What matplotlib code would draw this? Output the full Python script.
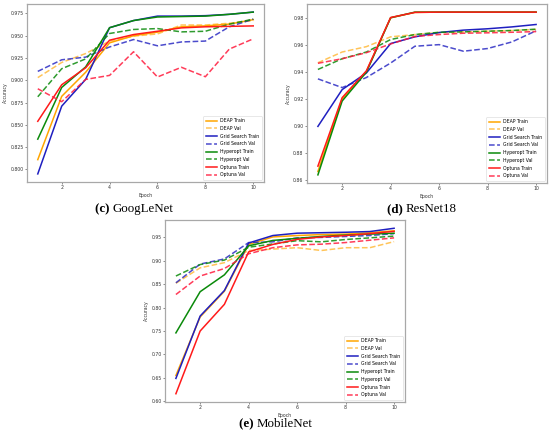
import matplotlib
matplotlib.use("Agg")
import matplotlib.pyplot as plt

epochs = [1, 2, 3, 4, 5, 6, 7, 8, 9, 10]

labels = ["DEAP Train", "DEAP Val", "Grid Search Train", "Grid Search Val",
          "Hyperopt Train", "Hyperopt Val", "Optuna Train", "Optuna Val"]

# (c) GoogLeNet
googlenet_deap_train = [0.811, 0.882, 0.909, 0.942, 0.950, 0.954, 0.960, 0.961, 0.963, 0.968]
googlenet_deap_val = [0.903, 0.920, 0.930, 0.944, 0.9495, 0.952, 0.962, 0.962, 0.964, 0.967]
googlenet_grid_train = [0.795, 0.871, 0.901, 0.959, 0.967, 0.972, 0.972, 0.9725, 0.974, 0.9765]
googlenet_grid_val = [0.910, 0.923, 0.926, 0.9374, 0.9457, 0.9387, 0.943, 0.944, 0.960, 0.9686]
googlenet_hyper_train = [0.834, 0.892, 0.915, 0.959, 0.967, 0.971, 0.9715, 0.972, 0.974, 0.9765]
googlenet_hyper_val = [0.8815, 0.913, 0.924, 0.9525, 0.957, 0.958, 0.9543, 0.955, 0.963, 0.9686]
googlenet_optuna_train = [0.854, 0.895, 0.914, 0.945, 0.9513, 0.955, 0.9588, 0.960, 0.9605, 0.961]
googlenet_optuna_val = [0.8905, 0.876, 0.901, 0.9055, 0.932, 0.9037, 0.9146, 0.904, 0.935, 0.9465]

# (d) ResNet18
resnet_deap_train = [0.866, 0.920, 0.9405, 0.9805, 0.9845, 0.9847, 0.9847, 0.9847, 0.9847, 0.9847]
resnet_deap_val = [0.947, 0.955, 0.959, 0.9663, 0.968, 0.9695, 0.970, 0.9705, 0.971, 0.9718]
resnet_grid_train = [0.8996, 0.927, 0.9394, 0.9613, 0.9663, 0.9695, 0.9713, 0.9723, 0.9737, 0.9755]
resnet_grid_val = [0.935, 0.9285, 0.936, 0.9468, 0.9593, 0.9605, 0.9556, 0.9576, 0.9625, 0.9708]
resnet_hyper_train = [0.8635, 0.9185, 0.940, 0.9805, 0.9847, 0.9847, 0.9847, 0.9847, 0.9847, 0.9847]
resnet_hyper_val = [0.942, 0.950, 0.955, 0.9643, 0.968, 0.9697, 0.970, 0.9705, 0.971, 0.972]
resnet_optuna_train = [0.870, 0.921, 0.941, 0.9807, 0.9845, 0.9847, 0.9847, 0.9847, 0.9847, 0.9847]
resnet_optuna_val = [0.9466, 0.950, 0.9545, 0.961, 0.9666, 0.968, 0.969, 0.9693, 0.9697, 0.9702]

# (e) MobileNet
mobilenet_deap_train = [0.655, 0.780, 0.835, 0.935, 0.951, 0.954, 0.956, 0.957, 0.960, 0.964]
mobilenet_deap_val = [0.852, 0.885, 0.896, 0.922, 0.925, 0.928, 0.922, 0.928, 0.928, 0.941]
mobilenet_grid_train = [0.6487, 0.782, 0.8365, 0.938, 0.954, 0.959, 0.960, 0.961, 0.9625, 0.9695]
mobilenet_grid_val = [0.853, 0.893, 0.904, 0.939, 0.9405, 0.949, 0.950, 0.952, 0.954, 0.958]
mobilenet_hyper_train = [0.746, 0.834, 0.870, 0.932, 0.9435, 0.948, 0.952, 0.955, 0.957, 0.959]
mobilenet_hyper_val = [0.8675, 0.892, 0.9015, 0.929, 0.936, 0.943, 0.9405, 0.9455, 0.949, 0.9528]
mobilenet_optuna_train = [0.616, 0.750, 0.807, 0.919, 0.935, 0.9457, 0.951, 0.954, 0.958, 0.963]
mobilenet_optuna_val = [0.828, 0.8675, 0.8835, 0.915, 0.928, 0.934, 0.9355, 0.939, 0.944, 0.949]

panels = [
    ("(c)", "GoogLeNet", [googlenet_deap_train, googlenet_deap_val, googlenet_grid_train, googlenet_grid_val,
                          googlenet_hyper_train, googlenet_hyper_val, googlenet_optuna_train, googlenet_optuna_val]),
    ("(d)", "ResNet18", [resnet_deap_train, resnet_deap_val, resnet_grid_train, resnet_grid_val,
                         resnet_hyper_train, resnet_hyper_val, resnet_optuna_train, resnet_optuna_val]),
    ("(e)", "MobileNet", [mobilenet_deap_train, mobilenet_deap_val, mobilenet_grid_train, mobilenet_grid_val,
                          mobilenet_hyper_train, mobilenet_hyper_val, mobilenet_optuna_train, mobilenet_optuna_val]),
]

styles = [
    dict(color="#ffa500", ls="-"),
    dict(color="#ffa500", ls="--", alpha=0.65),
    dict(color="#1f1fc0", ls="-"),
    dict(color="#1f1fc0", ls="--", alpha=0.8),
    dict(color="#0a8a0a", ls="-"),
    dict(color="#0a8a0a", ls="--", alpha=0.85),
    dict(color="#ff1a1a", ls="-"),
    dict(color="#ff1a3c", ls="--", alpha=0.85),
]

W, H = 550, 434
fig = plt.figure(figsize=(W / 100, H / 100), dpi=100)
renderer = fig.canvas.get_renderer()

# axes boxes in pixels: (left, top, right, bottom)
boxes = [(27, 4, 264, 182), (307, 4, 547, 183), (165, 220, 405, 402)]
captions = [(134, 209), (422, 209), (276, 424)]

small = 3.3
cap_size = 9.3
for (tag, name, series), (l, t, r, b), (cx, cy) in zip(panels, boxes, captions):
    ax = fig.add_axes([l / W, 1 - b / H, (r - l) / W, (b - t) / H])
    for lab, vals, st in zip(labels, series, styles):
        ax.plot(epochs, vals, label=lab, lw=1.1, **st)
    ax.set_xticks([2, 4, 6, 8, 10])
    ax.tick_params(labelsize=small, length=1.3, width=0.4, pad=1.2, colors="#333333")
    for sp in ax.spines.values():
        sp.set_color("#a8a8a8")
        sp.set_linewidth(0.9)
    ax.set_xlabel("Epoch", fontsize=small, labelpad=1.5, color="#333333")
    ax.set_ylabel("Accuracy", fontsize=small, labelpad=1.5, color="#333333")
    leg = ax.legend(loc="lower right", fontsize=small, frameon=True, handlelength=2.4,
                    borderpad=0.5, labelspacing=0.6, handletextpad=0.8)
    leg.get_frame().set_linewidth(0.4)
    for line in leg.get_lines():
        line.set_linewidth(1.1)
    # caption: bold tag + normal name, centred as a whole
    t1 = fig.text(0, 1 - cy / H, tag + " ", fontsize=cap_size, fontweight="bold",
                  family="Liberation Serif", ha="left", va="center")
    t2 = fig.text(0, 1 - cy / H, name, fontsize=cap_size, family="Liberation Serif",
                  ha="left", va="center")
    w1 = t1.get_window_extent(renderer).width
    w2 = t2.get_window_extent(renderer).width
    x0 = cx - (w1 + w2) / 2
    t1.set_x(x0 / W)
    t2.set_x((x0 + w1) / W)

fig.savefig("out.png", dpi=100)
